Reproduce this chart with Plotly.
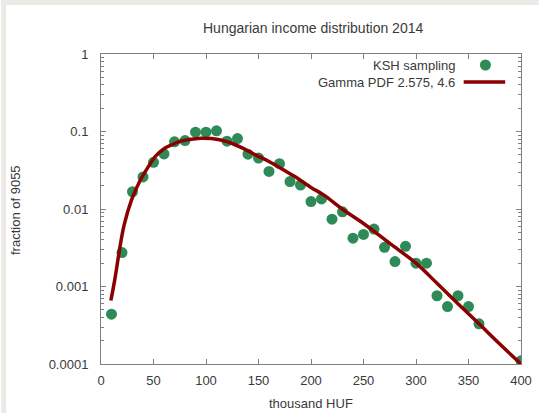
import plotly.graph_objects as go

# ---- data ----
income_k = [10, 20, 30, 40, 50, 60, 70, 80, 90, 100, 110, 120, 130, 140, 150,
            160, 170, 180, 190, 200, 210, 220, 230, 240, 250, 260, 270, 280,
            290, 300, 310, 320, 330, 340, 350, 360, 400]
fraction = [0.00044, 0.00274, 0.0167, 0.0259, 0.040, 0.0514, 0.0735, 0.0764,
            0.098, 0.098, 0.102, 0.075, 0.081, 0.051, 0.0455, 0.0305, 0.0384,
            0.0226, 0.0204, 0.01245, 0.0135, 0.0074, 0.0092, 0.0042, 0.0047,
            0.0055, 0.0032, 0.0021, 0.0033, 0.0020, 0.0020, 0.00076, 0.00055,
            0.00076, 0.00055, 0.00033, 0.00011]

gamma_x = [9.4, 13, 18, 22, 29, 37, 45, 52, 60, 68, 76, 84, 95, 105, 115, 125,
           135, 147, 160, 172, 185, 200, 212, 231, 250, 275, 300, 320, 340,
           360, 380, 400]
gamma_y = [0.00066, 0.0012, 0.0032, 0.0062, 0.013, 0.023, 0.035, 0.048, 0.060,
           0.068, 0.075, 0.079, 0.082, 0.081, 0.077, 0.070, 0.061, 0.050,
           0.041, 0.033, 0.026, 0.019, 0.0152, 0.0097, 0.0065, 0.0036, 0.0020,
           0.0011, 0.0006, 0.00033, 0.00018, 0.0001]

x_ticks = [0, 50, 100, 150, 200, 250, 300, 350, 400]
y_ticks = [1, 0.1, 0.01, 0.001, 0.0001]
y_ticktext = ["1", "0.1", "0.01", "0.001", "0.0001"]

title_text = "Hungarian income distribution 2014"
x_title = "thousand HUF"
y_title = "fraction of 9055"
series_names = ["KSH sampling", "Gamma PDF 2.575, 4.6"]

# ---- styling ----
W, H = 544, 413
ML, MR, MT, MB = 101, 18, 54, 49
PW, PH = W - ML - MR, H - MT - MB
FONT = "Liberation Sans, Arial, sans-serif"
TXT = "#3a3a3a"
AX = "#808080"
GREEN = "#2e8b57"
RED = "#8b0000"


def px_x(p):
    return (p - ML) / PW


def px_y(p):
    return (H - MB - p) / PH


fig = go.Figure()
fig.add_trace(go.Scatter(x=income_k, y=fraction, mode="markers",
                         name=series_names[0],
                         marker=dict(color=GREEN, size=11, line=dict(width=0))))
fig.add_trace(go.Scatter(x=gamma_x, y=gamma_y, mode="lines",
                         name=series_names[1], line_shape="spline",
                         line=dict(color=RED, width=3.5)))

axis_common = dict(showline=True, linecolor=AX, linewidth=1, mirror="allticks",
                   ticks="inside", ticklen=5, tickcolor=AX, showgrid=False,
                   zeroline=False, tickfont=dict(family=FONT, size=13, color=TXT))

fig.update_xaxes(range=[0, 400], tickmode="array", tickvals=x_ticks,
                 ticklabelstandoff=4, **axis_common)
fig.update_yaxes(type="log", range=[-4, 0], tickmode="array", tickvals=y_ticks,
                 ticktext=y_ticktext, ticklabelstandoff=9,
                 minor=dict(ticks="inside", ticklen=3, tickcolor=AX,
                            dtick="D1", showgrid=False),
                 **axis_common)

shapes = [
    # grey page border on top and left
    dict(type="rect", xref="paper", yref="paper", layer="below",
         x0=px_x(0), x1=px_x(5), y0=px_y(H), y1=px_y(0),
         fillcolor="#ebebe6", line=dict(width=0)),
    dict(type="rect", xref="paper", yref="paper", layer="below",
         x0=px_x(0), x1=px_x(W), y0=px_y(5), y1=px_y(0),
         fillcolor="#ebebe6", line=dict(width=0)),
    # legend samples
    dict(type="circle", xref="paper", yref="paper", xsizemode="pixel",
         ysizemode="pixel", xanchor=px_x(490), yanchor=px_y(65),
         x0=-5.5, x1=5.5, y0=-5.5, y1=5.5, fillcolor=GREEN,
         line=dict(width=0)),
    dict(type="line", xref="paper", yref="paper",
         x0=px_x(468), x1=px_x(510), y0=px_y(82), y1=px_y(82),
         line=dict(color=RED, width=3.5)),
]

annotations = [
    dict(text=series_names[0], xref="paper", yref="paper", x=px_x(461),
         y=px_y(65), xanchor="right", yanchor="middle", showarrow=False,
         font=dict(family=FONT, size=13, color=TXT)),
    dict(text=series_names[1], xref="paper", yref="paper", x=px_x(461),
         y=px_y(82), xanchor="right", yanchor="middle", showarrow=False,
         font=dict(family=FONT, size=13, color=TXT)),
    dict(text=x_title, xref="paper", yref="paper", x=0.5, y=px_y(404),
         xanchor="center", yanchor="middle", showarrow=False,
         font=dict(family=FONT, size=13, color=TXT)),
    dict(text=y_title, xref="paper", yref="paper", x=px_x(15), y=px_y(210),
         xanchor="center", yanchor="middle", showarrow=False, textangle=-90,
         font=dict(family=FONT, size=13, color=TXT)),
    dict(text=title_text, xref="paper", yref="paper", x=px_x(316), y=px_y(28),
         xanchor="center", yanchor="middle", showarrow=False,
         font=dict(family=FONT, size=14, color=TXT)),
]

fig.update_layout(width=W, height=H, autosize=False,
                  margin=dict(l=ML, r=MR, t=MT, b=MB, pad=0),
                  paper_bgcolor="white", plot_bgcolor="white",
                  showlegend=False, shapes=shapes, annotations=annotations,
                  font=dict(family=FONT, size=13, color=TXT))

fig.write_html("out.html")
